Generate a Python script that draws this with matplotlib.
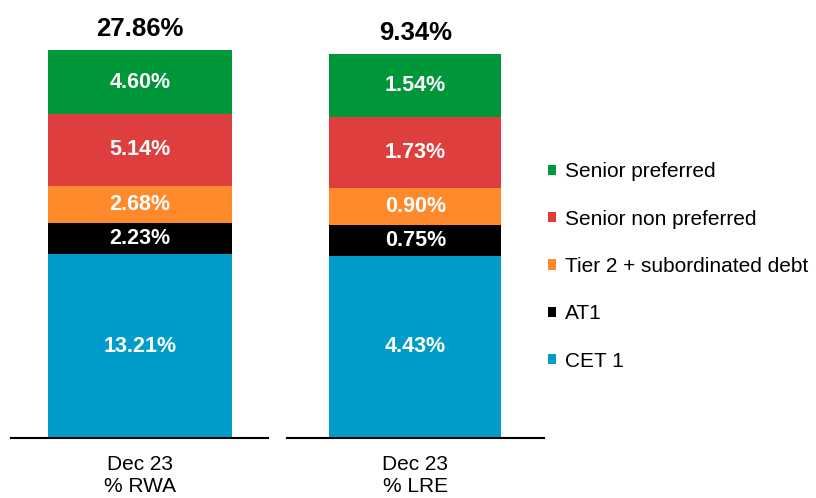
import matplotlib.pyplot as plt
from matplotlib.patches import Patch

plt.rcParams['font.family'] = ['Liberation Sans', 'DejaVu Sans']

# capital stack, bottom to top
layers = ['CET 1', 'AT1', 'Tier 2 + subordinated debt', 'Senior non preferred', 'Senior preferred']
colors = ['#009DCB', '#000000', '#FF8A2B', '#DF3E3E', '#00963A']

rwa = [13.21, 2.23, 2.68, 5.14, 4.60]
lre = [4.43, 0.75, 0.90, 1.73, 1.54]
rwa_total = 27.86
lre_total = 9.34

labels = ['Dec 23\n% RWA', 'Dec 23\n% LRE']

W, H = 816, 498
fig = plt.figure(figsize=(W / 100, H / 100), dpi=100)

# each bar gets its own axes so both fill the same height
ax1 = fig.add_axes([11.4 / W, 60 / H, 257 / W, 388 / H])
ax2 = fig.add_axes([286.8 / W, 60 / H, 257 / W, 384 / H])


def stack(ax, values, total, label, width):
    bottom = 0
    for v, c in zip(values, colors):
        ax.bar(0, v, width=width, bottom=bottom, color=c, linewidth=0)
        ax.text(0, bottom + v / 2, '%.2f%%' % v, ha='center', va='center',
                color='white', fontsize=15.5, fontweight='bold')
        bottom += v
    ax.annotate('%.2f%%' % total, xy=(0, total), xytext=(0, 10),
                textcoords='offset points', ha='center', va='baseline',
                fontsize=18.5, fontweight='bold', annotation_clip=False)
    ax.set_xlim(-0.5, 0.5)
    ax.set_ylim(0, total)
    for s in ['top', 'right', 'left']:
        ax.spines[s].set_visible(False)
    ax.spines['bottom'].set_linewidth(1.5)
    ax.set_yticks([])
    ax.set_xticks([0])
    ax.set_xticklabels([label], fontsize=15, linespacing=1.25)
    ax.tick_params(axis='x', length=0, pad=12)


stack(ax1, rwa, rwa_total, labels[0], 0.714)
stack(ax2, lre, lre_total, labels[1], 0.669)

handles = [Patch(facecolor=c, linewidth=0) for c in colors[::-1]]
fig.legend(handles, layers[::-1], loc='center left', bbox_to_anchor=(548 / W, 0.465),
           frameon=False, fontsize=15, handlelength=0.38, handleheight=0.38,
           handletextpad=0.45, labelspacing=1.36, borderpad=0, borderaxespad=0)

fig.savefig('out.png', dpi=100)
